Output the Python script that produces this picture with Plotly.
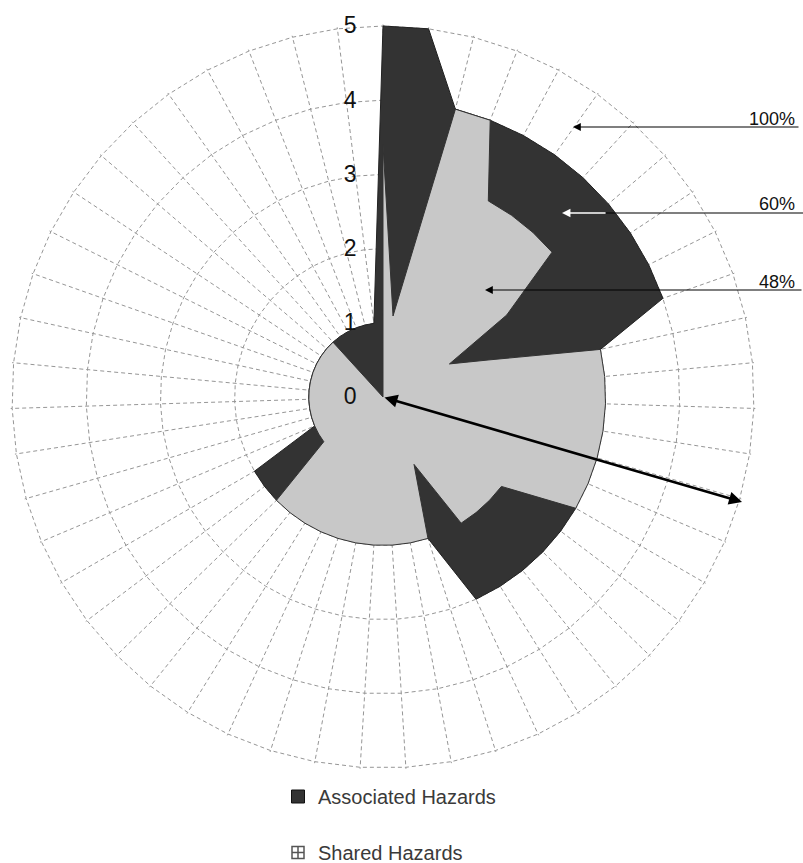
import plotly.graph_objects as go

# ---------------- data ----------------
categories = [f"H{i+1}" for i in range(51)]

associated = [5, 5, 4, 4, 4, 4, 4, 4, 4, 4,
              4, 3, 2, 2, 2, 2, 2, 3, 3, 3,
              3, 3, 3, 2, 1, 1, 1, 1, 1, 1,
              1, 1, 2, 2, 2, 1, 1, 1, 1, 1,
              1, 1, 1, 1, 1, 1, 1, 1, 1, 1,
              1]

shared = [3.4, 1.1, 4, 4, 3, 3, 3, 3, 2, 1,
          1.5, 3, 3, 3, 3, 3, 3, 3, 2, 2,
          2, 2, 1, 2, 2, 2, 2, 2, 2, 2,
          2, 2, 2, 1, 1, 1, 1, 1, 1, 1,
          1, 1, 1, 1, 1, 1, 0, 0, 0, 0,
          0]

series_names = ["Associated Hazards", "Shared Hazards"]
radial_ticks = [0, 1, 2, 3, 4, 5]
pct_labels = ["100%", "60%", "48%"]

W, H = 803, 863
FONT = "Liberation Sans, Arial, sans-serif"
RMAX = 5.02


def px(x):
    return x / W


def py(y):
    return 1 - y / H


def closed(v):
    return list(v) + [v[0]]


theta_c = closed(categories)

fig = go.Figure()

fig.add_trace(go.Scatterpolar(
    r=closed(associated), theta=theta_c, mode="lines", fill="toself",
    fillcolor="#333333", line=dict(color="#222222", width=1),
    name=series_names[0], showlegend=False, hoverinfo="skip"))

fig.add_trace(go.Scatterpolar(
    r=closed(shared), theta=theta_c, mode="lines", fill="toself",
    fillcolor="#c8c8c8", line=dict(color="#333333", width=1),
    name=series_names[1], showlegend=False, hoverinfo="skip"))

# legend entries (square icons like the original)
fig.add_trace(go.Scatterpolar(
    r=[None], theta=[categories[0]], mode="markers",
    marker=dict(symbol="square", size=13, color="#333333",
                line=dict(color="#111111", width=1)),
    name=series_names[0], legendgroup="a", showlegend=True))
fig.add_trace(go.Scatterpolar(
    r=[None], theta=[categories[0]], mode="markers",
    marker=dict(symbol="square-cross-open", size=12, color="#555555",
                line=dict(width=1.5)),
    name=series_names[1], legendgroup="b", showlegend=True))

cx, cy = 383, 397
R = 371 * RMAX / 5.0
grid = "#969696"

fig.update_layout(
    width=W, height=H,
    margin=dict(l=0, r=0, t=0, b=0, autoexpand=False),
    paper_bgcolor="white",
    font=dict(family=FONT, color="#222222"),
    polar=dict(
        domain=dict(x=[px(cx - R), px(cx + R)], y=[py(cy + R), py(cy - R)]),
        bgcolor="white",
        gridshape="linear",
        angularaxis=dict(
            type="category", categoryarray=categories,
            rotation=90, direction="clockwise",
            showticklabels=False, ticks="", showline=False,
            gridcolor=grid, griddash="4px,3px", gridwidth=1,
        ),
        radialaxis=dict(
            range=[0, RMAX], tickvals=radial_ticks, angle=90, tickangle=90,
            side="counterclockwise",
            showline=False, ticks="outside", ticklen=18,
            tickcolor="rgba(0,0,0,0)",
            tickfont=dict(size=23, color="#111111", family=FONT),
            gridcolor=grid, griddash="4px,3px", gridwidth=1,
        ),
    ),
    legend=dict(
        x=px(278), y=py(777), xanchor="left", yanchor="top",
        font=dict(size=20, color="#3a3a3a", family=FONT),
        tracegroupgap=27, bgcolor="rgba(0,0,0,0)",
    ),
)

# percentage labels
label_y = [118.5, 204, 282]
for t, yy in zip(pct_labels, label_y):
    fig.add_annotation(text=t, x=px(797), y=py(yy), xref="paper", yref="paper",
                       xanchor="right", yanchor="middle", showarrow=False,
                       font=dict(size=18, color="#111111", family=FONT))

# arrows for labels
fig.add_annotation(text="", x=px(573), y=py(127), xref="paper", yref="paper",
                   ax=227, ay=0, showarrow=True, arrowhead=2, arrowsize=1.3,
                   arrowwidth=1.2, arrowcolor="#000000")
fig.add_shape(type="line", xref="paper", yref="paper",
              x0=px(606), y0=py(213), x1=px(803), y1=py(213),
              line=dict(color="#000000", width=1.2))
fig.add_annotation(text="", x=px(562), y=py(213), xref="paper", yref="paper",
                   ax=45, ay=0, showarrow=True, arrowhead=2, arrowsize=1.3,
                   arrowwidth=1.3, arrowcolor="#ffffff")
fig.add_annotation(text="", x=px(485), y=py(290), xref="paper", yref="paper",
                   ax=318, ay=0, showarrow=True, arrowhead=2, arrowsize=1.3,
                   arrowwidth=1.2, arrowcolor="#000000")

# big double-headed arrow from the centre
fig.add_annotation(text="", x=px(742), y=py(502), xref="paper", yref="paper",
                   ax=cx - 742, ay=cy - 502, showarrow=True,
                   arrowhead=2, arrowsize=1, arrowwidth=2.6,
                   arrowside="end+start", startarrowhead=2, startarrowsize=1,
                   arrowcolor="#000000")

fig.write_html("out.html",
               config={"displayModeBar": False},
               post_script="document.body.style.margin='0px';"
                           "document.body.style.overflow='hidden';")
